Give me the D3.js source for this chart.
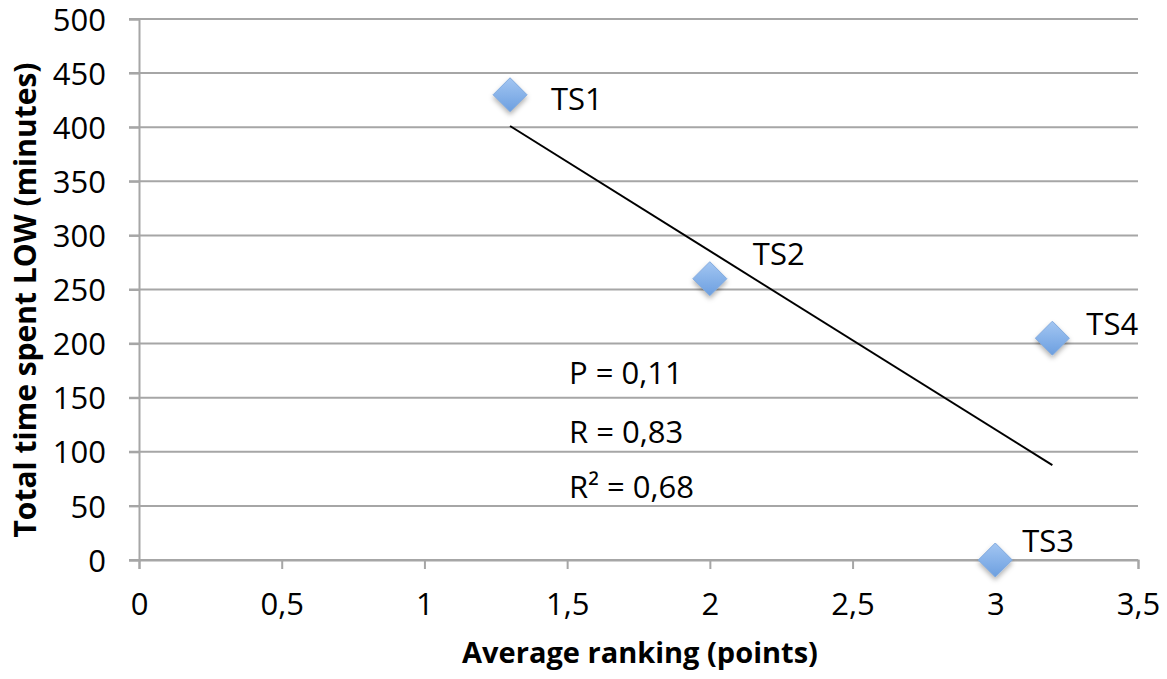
<!DOCTYPE html>
<html>
<head>
<meta charset="utf-8">
<script src="https://cdn.jsdelivr.net/npm/d3@7"></script>
<style>
  body { margin: 0; background: #fff; }
  svg text { font-family: "Open Sans", "DejaVu Sans", sans-serif; fill: #000; }
</style>
</head>
<body>
<div id="chart"></div>
<script>
// data
const names = ["TS1", "TS2", "TS3", "TS4"];
const ranking = [1.3, 2.0, 3.0, 3.2];
const timeLow = [430, 260, 0, 205];
const statLines = ["P = 0,11", "R = 0,83", "R\u00b2 = 0,68"];
const xTicks = [0, 0.5, 1, 1.5, 2, 2.5, 3, 3.5];
const yTicks = [0, 50, 100, 150, 200, 250, 300, 350, 400, 450, 500];

// label nudges relative to each marker (style, not data)
const labelOffsets = {TS1: [41, 15], TS2: [43, -14], TS3: [27, -8], TS4: [34, -3]};

const width = 1167, height = 679;
const margin = {top: 19, right: 29, bottom: 119, left: 139};

const svg = d3.select("#chart").append("svg")
  .attr("width", width)
  .attr("height", height);

const x = d3.scaleLinear().domain([0, 3.5]).range([margin.left, width - margin.right]);
const y = d3.scaleLinear().domain([0, 500]).range([height - margin.bottom, margin.top]);

const comma = v => String(v).replace(".", ",");

// gridlines
svg.append("g")
  .selectAll("line")
  .data(yTicks)
  .join("line")
  .attr("x1", x(0) - 10)
  .attr("x2", x(3.5))
  .attr("y1", d => y(d))
  .attr("y2", d => y(d))
  .attr("stroke", "#a6a6a6")
  .attr("stroke-width", 2);

// y axis
const yAxis = svg.append("g")
  .attr("transform", `translate(${x(0)},0)`)
  .call(d3.axisLeft(y).tickValues(yTicks).tickSize(10).tickPadding(23).tickFormat(comma));
yAxis.select(".domain").attr("stroke", "#a6a6a6").attr("stroke-width", 2);
yAxis.selectAll(".tick line").attr("stroke", "#a6a6a6").attr("stroke-width", 2);
yAxis.selectAll(".tick text").style("font-size", "31px").attr("dy", "0.36em");

// x axis
const xAxis = svg.append("g")
  .attr("transform", `translate(0,${y(0)})`)
  .call(d3.axisBottom(x).tickValues(xTicks).tickSize(9).tickPadding(24).tickFormat(comma));
xAxis.select(".domain").attr("stroke", "#a6a6a6").attr("stroke-width", 2);
xAxis.selectAll(".tick line").attr("stroke", "#a6a6a6").attr("stroke-width", 2);
xAxis.selectAll(".tick text").style("font-size", "31px");

// axis titles
svg.append("text")
  .attr("x", 640)
  .attr("y", 663)
  .attr("text-anchor", "middle")
  .style("font-size", "29px")
  .style("font-weight", "bold")
  .text("Average ranking (points)");

svg.append("text")
  .attr("transform", `translate(36,300) rotate(-90)`)
  .attr("text-anchor", "middle")
  .style("font-size", "30px")
  .style("font-weight", "bold")
  .text("Total time spent LOW (minutes)");

// linear trendline (least squares over the points)
const mx = d3.mean(ranking), my = d3.mean(timeLow);
const sxy = d3.sum(ranking, (v, i) => (v - mx) * (timeLow[i] - my));
const sxx = d3.sum(ranking, v => (v - mx) * (v - mx));
const slope = sxy / sxx, icpt = my - slope * mx;
const xMin = d3.min(ranking), xMax = d3.max(ranking);

svg.append("line")
  .attr("x1", x(xMin)).attr("y1", y(icpt + slope * xMin))
  .attr("x2", x(xMax)).attr("y2", y(icpt + slope * xMax))
  .attr("stroke", "#000")
  .attr("stroke-width", 2);

// marker look
const defs = svg.append("defs");
const grad = defs.append("linearGradient")
  .attr("id", "dia").attr("x1", 0).attr("y1", 0).attr("x2", 0).attr("y2", 1);
grad.append("stop").attr("offset", "0%").attr("stop-color", "#a3c6f2");
grad.append("stop").attr("offset", "100%").attr("stop-color", "#6c9fe0");
const shadow = defs.append("filter").attr("id", "shadow")
  .attr("x", "-50%").attr("y", "-50%").attr("width", "200%").attr("height", "200%");
shadow.append("feDropShadow")
  .attr("dx", 0).attr("dy", 3).attr("stdDeviation", 2.5)
  .attr("flood-color", "#000").attr("flood-opacity", 0.3);

const points = names.map((n, i) => ({name: n, x: ranking[i], y: timeLow[i]}));

const half = 17;
svg.append("g")
  .selectAll("path")
  .data(points)
  .join("path")
  .attr("d", `M0,${-half}L${half},0L0,${half}L${-half},0Z`)
  .attr("transform", d => `translate(${x(d.x)},${y(d.y)})`)
  .attr("fill", "url(#dia)")
  .attr("stroke", "#7fa8dd")
  .attr("stroke-width", 1)
  .attr("filter", "url(#shadow)");

svg.append("g")
  .selectAll("text")
  .data(points)
  .join("text")
  .attr("x", d => x(d.x) + labelOffsets[d.name][0])
  .attr("y", d => y(d.y) + labelOffsets[d.name][1])
  .style("font-size", "31px")
  .text(d => d.name);

// statistics
svg.append("g")
  .selectAll("text")
  .data(statLines)
  .join("text")
  .attr("x", 569)
  .attr("y", (d, i) => [384, 443, 498][i])
  .style("font-size", "31px")
  .text(d => d);
</script>
</body>
</html>
